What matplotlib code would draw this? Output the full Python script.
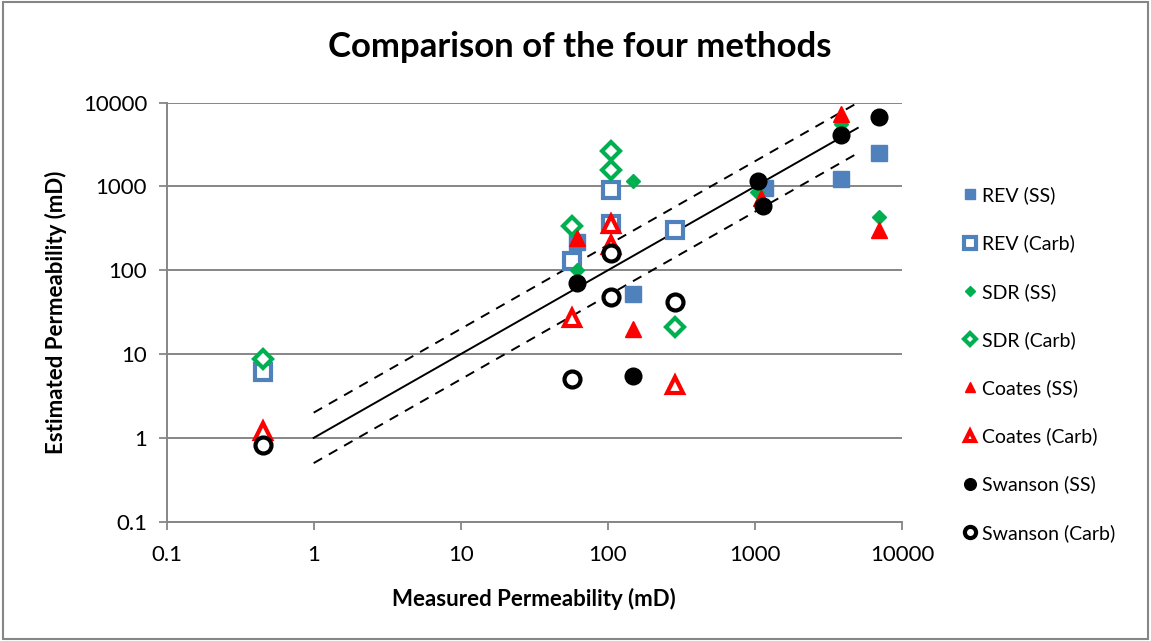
import matplotlib
matplotlib.use("Agg")
import matplotlib.pyplot as plt
from matplotlib.patches import Rectangle
from matplotlib.ticker import FixedLocator, FuncFormatter

plt.rcParams['font.family'] = ['Lato', 'DejaVu Sans']

# measured permeability (mD)
ss_x = [62, 149, 1050, 1140, 3840, 7000]
carb_x = [0.45, 57, 105, 105, 285]

# REV
rev_ss_x = [62, 149, 1170, 3840, 7000]
rev_ss_y = [219, 52, 950, 1230, 2510]
rev_carb_y = [6.1, 130, 360, 910, 300]
# SDR
sdr_ss_x = [62, 149, 1030, 3840, 7000]
sdr_ss_y = [102, 1170, 860, 5550, 437]
sdr_carb_y = [8.8, 340, 1570, 2670, 21]
# Coates
coates_ss_x = [62, 149, 1100, 3840, 7000]
coates_ss_y = [245, 20, 720, 7300, 300]
coates_carb_y = [1.22, 27, 360, 200, 4.3]
# Swanson
swanson_ss_y = [70, 5.5, 1150, 590, 4150, 6800]
swanson_carb_y = [0.82, 5.0, 160, 48, 42]

# reference lines
line_x = [1, 5000]
ratio_mid = 1.0
ratio_hi = 2.0
ratio_lo = 0.5

blue = "#4F81BD"
green = "#00B050"
red = "#FF0000"

fig = plt.figure(figsize=(11.51, 6.41), dpi=100)
ax = fig.add_axes([0.1447, 0.1861, 0.639, 0.6537])

ax.plot(line_x, [v * ratio_mid for v in line_x], color="black", lw=1.4, zorder=2)
ax.plot(line_x, [v * ratio_hi for v in line_x], color="black", lw=1.4, ls=(0, (5, 4)), zorder=2)
ax.plot(line_x, [v * ratio_lo for v in line_x], color="black", lw=1.4, ls=(0, (5, 4)), zorder=2)

ax.plot(rev_ss_x, rev_ss_y, ls="none", marker="s", ms=11, color=blue, mec=blue, label="REV (SS)", zorder=3)
ax.plot(carb_x, rev_carb_y, ls="none", marker="s", ms=11.5, mfc="white", mec=blue, mew=3, label="REV (Carb)", zorder=3)
ax.plot(sdr_ss_x, sdr_ss_y, ls="none", marker="D", ms=7.5, color=green, mec=green, label="SDR (SS)", zorder=3)
ax.plot(carb_x, sdr_carb_y, ls="none", marker="D", ms=9, mfc="white", mec=green, mew=3, label="SDR (Carb)", zorder=3)
ax.plot(coates_ss_x, coates_ss_y, ls="none", marker="^", ms=11, color=red, mec=red, label="Coates (SS)", zorder=3)
ax.plot(carb_x, coates_carb_y, ls="none", marker="^", ms=11, mfc="white", mec=red, mew=3, label="Coates (Carb)", zorder=3)
ax.plot(ss_x, swanson_ss_y, ls="none", marker="o", ms=12, color="black", label="Swanson (SS)", zorder=3)
ax.plot(carb_x, swanson_carb_y, ls="none", marker="o", ms=11.5, mfc="white", mec="black", mew=3, label="Swanson (Carb)", zorder=3)

ax.set_xscale("log")
ax.set_yscale("log")
ax.set_xlim(0.1, 10000)
ax.set_ylim(0.1, 10000)
decades = [0.1, 1, 10, 100, 1000, 10000]
ax.xaxis.set_major_locator(FixedLocator(decades))
ax.yaxis.set_major_locator(FixedLocator(decades))
ax.xaxis.set_minor_locator(FixedLocator([]))
ax.yaxis.set_minor_locator(FixedLocator([]))
fmt = FuncFormatter(lambda v, p: "%g" % v)
ax.xaxis.set_major_formatter(fmt)
ax.yaxis.set_major_formatter(fmt)
ax.tick_params(axis="both", labelsize=16, length=6, width=1.3, color="#868686", pad=8)
ax.tick_params(axis="x", pad=11)

ax.grid(axis="y", color="#868686", lw=1.4)
ax.set_axisbelow(True)
for s in ["top", "right"]:
    ax.spines[s].set_visible(False)
for s in ["left", "bottom"]:
    ax.spines[s].set_color("#868686")
    ax.spines[s].set_linewidth(1.4)

ax.set_xlabel("Measured Permeability (mD)", fontsize=16, fontweight="bold", labelpad=16)
ax.set_ylabel("Estimated Permeability (mD)", fontsize=16, fontweight="bold", labelpad=11)
fig.text(0.504, 0.926, "Comparison of the four methods", fontsize=25, fontweight="bold", ha="center", va="center")

ax.legend(loc="center left", bbox_to_anchor=(0.828, 0.432), bbox_transform=fig.transFigure,
          frameon=False, fontsize=14, markerscale=0.7, handlelength=0.7, handletextpad=0.3,
          labelspacing=1.56, borderpad=0)

fig.patches.append(Rectangle((0.003, 0.003), 0.994, 0.994, transform=fig.transFigure,
                             fill=False, edgecolor="#868686", lw=1.5))

fig.savefig("out.png", dpi=100)
